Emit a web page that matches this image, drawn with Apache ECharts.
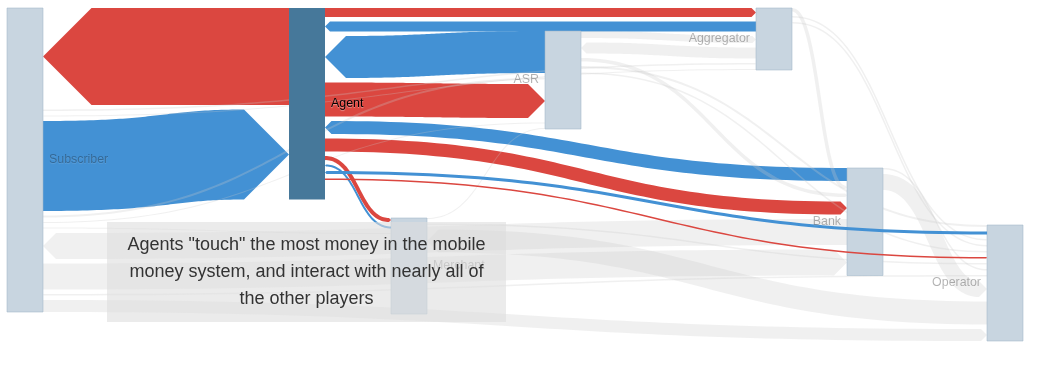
<!DOCTYPE html>
<html>
<head>
<meta charset="utf-8">
<script src="https://cdn.jsdelivr.net/npm/echarts@6/dist/echarts.min.js"></script>
<style>
html,body{margin:0;padding:0;background:#fff;}
#chart{width:1040px;height:367px;}
</style>
</head>
<body>
<div id="chart"></div>
<script>
// ---------------- data ----------------
const nodeNames = ['Subscriber', 'Agent', 'Merchant', 'ASR', 'Aggregator', 'Bank', 'Operator'];
// a node's own volume when it exceeds its drawn flows (null = use flows)
const nodeTotals = [null, null, 96, null, null, null, null];
const highlightNode = 'Agent';

const linkSources = [
  'Agent', 'Agent', 'Aggregator', 'ASR', 'Aggregator', 'Subscriber', 'Aggregator', 'ASR',
  'Subscriber', 'Subscriber', 'Agent', 'ASR', 'Merchant', 'Bank', 'Aggregator', 'ASR',
  'Agent', 'Agent', 'Merchant', 'Subscriber', 'Bank', 'Subscriber', 'ASR', 'Operator',
  'Aggregator', 'Operator', 'Operator', 'Agent', 'Merchant', 'Operator', 'Operator', 'Bank',
  'Operator', 'Subscriber'
];
const linkTargets = [
  'Subscriber', 'Aggregator', 'Agent', 'Aggregator', 'ASR', 'Aggregator', 'Subscriber', 'Agent',
  'Agent', 'ASR', 'ASR', 'Subscriber', 'ASR', 'Agent', 'Bank', 'Bank',
  'Bank', 'Merchant', 'Agent', 'Merchant', 'Subscriber', 'Bank', 'Operator', 'Agent',
  'Operator', 'Aggregator', 'ASR', 'Operator', 'Operator', 'Bank', 'Subscriber', 'Operator',
  'Merchant', 'Operator'
];
const linkValues = [
  97, 9, 10, 7, 11, 1.5, 1, 42,
  90, 2, 34, 1, 1, 13, 3.5, 3.5,
  13, 4, 2, 1, 26, 26, 2, 3,
  1.5, 1.5, 1.5, 1.5, 1.5, 1.5, 1.5, 16,
  23, 12
];
const annotationText = 'Agents "touch" the most money in the mobile\nmoney system, and interact with nearly all of\nthe other players';

// ---------------- layout settings ----------------
const layout = {
  nodeX:   { Subscriber: 7, Agent: 289, Merchant: 391, ASR: 545, Aggregator: 756, Bank: 847, Operator: 987 },
  nodeTop: { Subscriber: 8, Agent: 8, Merchant: 218, ASR: 31, Aggregator: 8, Bank: 168, Operator: 225 },
  nodeWidth: 36,
  linkGap: 4.5
};
const colors = {
  out: '#db4740', into: '#4391d4', other: 'rgba(200,200,200,0.28)',
  node: '#c8d5e0', nodeStroke: 'rgba(160,182,200,0.55)', nodeHi: '#46789a'
};

// ---------------- sankey-style stacking ----------------
function computeLayout() {
  const nodes = {};
  nodeNames.forEach((n, i) => {
    nodes[n] = { name: n, x: layout.nodeX[n], top: layout.nodeTop[n], total: nodeTotals[i],
                 leftSide: [], rightSide: [] };
  });
  const links = linkValues.map((v, i) => {
    const s = linkSources[i], t = linkTargets[i];
    const leftName = nodes[s].x < nodes[t].x ? s : t;
    const rightName = leftName === s ? t : s;
    const l = { i, source: s, target: t, value: v, left: leftName, right: rightName,
                arrowRight: rightName === t };
    nodes[leftName].rightSide.push(l);
    nodes[rightName].leftSide.push(l);
    return l;
  });
  const sideSpan = arr => arr.reduce((a, l) => a + l.value, 0) + Math.max(0, arr.length - 1) * layout.linkGap;
  Object.values(nodes).forEach(n => {
    n.h = Math.max(sideSpan(n.leftSide), sideSpan(n.rightSide), n.total || 0);
    let off = n.top;
    n.rightSide.forEach(l => { l.y1 = off; off += l.value + layout.linkGap; });
    off = n.top;
    n.leftSide.forEach(l => { l.y2 = off; off += l.value + layout.linkGap; });
  });
  links.forEach(l => {
    l.x1 = nodes[l.left].x + layout.nodeWidth;
    l.x2 = nodes[l.right].x;
    l.color = l.source === highlightNode ? colors.out : (l.target === highlightNode ? colors.into : colors.other);
    l.hi = l.source === highlightNode || l.target === highlightNode;
  });
  return { nodes, links };
}
const L = computeLayout();

// polygon of a link: stroked centre curve with an arrow head at the target
function linkPoints(l, api) {
  const w = api.size([0, l.value])[1];
  const a = w / 2;
  const p1 = api.coord([l.x1, l.y1 + l.value / 2]);
  const p2 = api.coord([l.x2, l.y2 + l.value / 2]);
  const xs = p1[0] + (l.arrowRight ? 0 : a);
  const xe = p2[0] - (l.arrowRight ? a : 0);
  const xm = (p1[0] + p2[0]) / 2;
  const ys = p1[1], ye = p2[1];
  const N = 60, top = [], bot = [];
  for (let k = 0; k <= N; k++) {
    const t = k / N, mt = 1 - t;
    const px = mt * mt * mt * xs + 3 * mt * mt * t * xm + 3 * mt * t * t * xm + t * t * t * xe;
    const py = mt * mt * mt * ys + 3 * mt * mt * t * ys + 3 * mt * t * t * ye + t * t * t * ye;
    const dx = 3 * mt * mt * (xm - xs) + 3 * t * t * (xe - xm);
    const dy = 6 * mt * t * (ye - ys);
    const len = Math.hypot(dx, dy) || 1;
    const nx = -dy / len, ny = dx / len;
    top.push([px - nx * w / 2, py - ny * w / 2]);
    bot.push([px + nx * w / 2, py + ny * w / 2]);
  }
  bot.reverse();
  if (l.arrowRight) return top.concat([[p2[0], ye]], bot);
  return [[p1[0], ys]].concat(top, bot);
}

function linkSeries(filter) {
  const idx = L.links.filter(filter).map(l => [l.i, 0]);
  return {
    type: 'custom', coordinateSystem: 'cartesian2d', data: idx, silent: true, clip: false,
    renderItem: function (params, api) {
      const l = L.links[api.value(0)];
      return { type: 'polygon', shape: { points: linkPoints(l, api) }, style: { fill: l.color } };
    }
  };
}

const nodeData = nodeNames.map((n, i) => [i, 0]);
const nodeSeries = {
  type: 'custom', coordinateSystem: 'cartesian2d', data: nodeData, silent: true, clip: false,
  renderItem: function (params, api) {
    const n = L.nodes[nodeNames[api.value(0)]];
    const p = api.coord([n.x, n.top]);
    const s = api.size([layout.nodeWidth, n.h]);
    const hi = n.name === highlightNode;
    return { type: 'rect', shape: { x: p[0], y: p[1], width: s[0], height: s[1] },
             style: { fill: hi ? colors.nodeHi : colors.node, stroke: hi ? null : colors.nodeStroke, lineWidth: 1 } };
  }
};
const labelSeries = {
  type: 'custom', coordinateSystem: 'cartesian2d', data: nodeData, silent: true, clip: false,
  renderItem: function (params, api) {
    const n = L.nodes[nodeNames[api.value(0)]];
    const onLeft = n.x < 520;
    const p = api.coord([onLeft ? n.x + layout.nodeWidth + 6 : n.x - 6, n.top + n.h / 2]);
    const hi = n.name === highlightNode;
    return { type: 'text', x: p[0], y: p[1],
             style: { text: n.name, fill: hi ? '#000' : 'rgba(0,0,0,0.3)', fontSize: 12.4,
                      fontFamily: '"Liberation Sans", Arial, sans-serif',
                      align: onLeft ? 'left' : 'right', verticalAlign: 'middle',
                      textShadowColor: 'rgba(255,255,255,0.45)', textShadowBlur: 1, textShadowOffsetY: 1 } };
  }
};

const chart = echarts.init(document.getElementById('chart'));
chart.setOption({
  animation: false,
  grid: { left: 0, right: 0, top: 0, bottom: 0 },
  xAxis: { type: 'value', min: 0, max: 1040, show: false },
  yAxis: { type: 'value', min: 0, max: 367, inverse: true, show: false },
  series: [
    linkSeries(l => l.hi && l.value >= 5),
    linkSeries(l => !l.hi),
    nodeSeries,
    linkSeries(l => l.hi && l.value < 5),
    labelSeries
  ],
  graphic: [
    { type: 'rect', z: 100, shape: { x: 107, y: 222, width: 399, height: 100 },
      style: { fill: 'rgba(221,221,221,0.6)' } },
    { type: 'text', z: 101, x: 306.5, y: 272,
      style: { text: annotationText, fill: '#333', fontSize: 18,
               fontFamily: '"Liberation Sans", Arial, sans-serif',
               align: 'center', verticalAlign: 'middle', lineHeight: 27 } }
  ]
});
</script>
</body>
</html>
